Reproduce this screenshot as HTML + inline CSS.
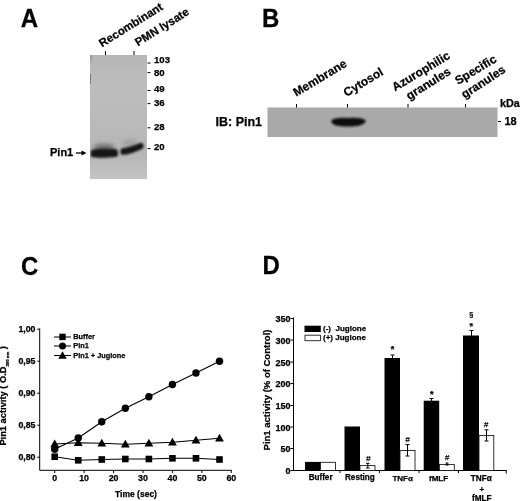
<!DOCTYPE html>
<html><head><meta charset="utf-8">
<style>
html,body{margin:0;padding:0;background:#fff;}
body{width:520px;height:501px;overflow:hidden;}
svg{display:block;font-family:"Liberation Sans",Arial,sans-serif;font-weight:bold;fill:#000;}
text{stroke:#000;stroke-width:0.25px;}
</style></head><body>
<svg width="520" height="501" viewBox="0 0 520 501">
<defs>
<filter id="b1" x="-20%" y="-60%" width="140%" height="220%"><feGaussianBlur stdDeviation="1.2"/></filter>
<filter id="b2" x="-20%" y="-60%" width="140%" height="220%"><feGaussianBlur stdDeviation="1.3"/></filter>
<filter id="b3" x="-30%" y="-30%" width="160%" height="160%"><feGaussianBlur stdDeviation="3"/></filter>
<filter id="b5" x="-30%" y="-60%" width="160%" height="220%"><feGaussianBlur stdDeviation="2"/></filter>
<filter id="b6" x="-100%" y="-30%" width="300%" height="160%"><feGaussianBlur stdDeviation="0.7"/></filter>
<filter id="b4" x="-50%" y="-20%" width="200%" height="140%"><feGaussianBlur stdDeviation="1.5"/></filter>
<linearGradient id="gA" x1="0" y1="0" x2="0" y2="1"><stop offset="0" stop-color="#b6b6b6"/><stop offset="0.25" stop-color="#bdbdbd"/><stop offset="0.62" stop-color="#b9b9b9"/><stop offset="0.8" stop-color="#b6b6b6"/><stop offset="1" stop-color="#c4c4c4"/></linearGradient>
<clipPath id="cA"><rect x="90" y="55" width="57" height="124"/></clipPath>
<clipPath id="cB"><rect x="267.5" y="107.5" width="230" height="29.5"/></clipPath>
</defs>
<rect width="520" height="501" fill="#fff"/>
<!-- Panel A -->
<text transform="translate(20.8,27) scale(1,1.05)" font-size="24">A</text>
<rect x="90" y="55" width="57" height="124" fill="url(#gA)"/>
<g clip-path="url(#cA)">
 <rect x="88.5" y="52" width="3" height="9" fill="#8c8c8c" filter="url(#b4)"/>
 <rect x="89" y="74" width="1.8" height="10" fill="#707070" filter="url(#b6)"/>
 <ellipse cx="104" cy="147.3" rx="11" ry="3.3" fill="#6c6c6c" filter="url(#b5)"/>
 <ellipse cx="130" cy="143" rx="8" ry="3.5" fill="#a0a0a0" filter="url(#b5)"/>
 <path d="M92.3 151.6 C97 149.8 112 149.8 116.3 151.2 L116.3 155 C112 156.3 97 156.5 92.3 155.5 Z" fill="#161616" stroke="#161616" stroke-width="3.2" stroke-linejoin="round" filter="url(#b1)"/>
 <path d="M122.7 150.4 C128 149.7 136 147 141.2 145 L141.4 146.6 C136 149.2 128 152.3 122.7 152.6 Z" fill="#181818" stroke="#181818" stroke-width="4.5" stroke-linejoin="round" filter="url(#b1)"/>
</g>
<g stroke="#000" stroke-width="1">
 <line x1="105.5" y1="51" x2="105.5" y2="55"/><line x1="134" y1="51" x2="134" y2="55"/>
 <line x1="147.5" y1="63" x2="150.5" y2="63"/><line x1="147.5" y1="72.6" x2="150.5" y2="72.6"/>
 <line x1="147.5" y1="90.5" x2="150.5" y2="90.5"/><line x1="147.5" y1="103.6" x2="150.5" y2="103.6"/>
 <line x1="147.5" y1="127.8" x2="150.5" y2="127.8"/><line x1="147.5" y1="148.6" x2="150.5" y2="148.6"/>
</g>
<g font-size="9.6">
 <text x="154" y="63">103</text><text x="154" y="75.5">80</text><text x="154" y="92.4">49</text>
 <text x="154" y="106.2">36</text><text x="154" y="130.3">28</text><text x="154" y="150.3">20</text>
 <text x="50" y="156.1" font-size="11">Pin1</text>
</g>
<path d="M76 153 H83" stroke="#000" stroke-width="1.3" fill="none"/><path d="M81.5 150.5 L86.5 153 L81.5 155.5 Z"/>
<text font-size="11.5" transform="translate(102,47.5) rotate(-32)">Recombinant</text>
<text font-size="11.5" transform="translate(138,46.5) rotate(-32)">PMN lysate</text>
<!-- Panel B -->
<text transform="translate(262,27) scale(1,1.05)" font-size="24">B</text>
<rect x="267.5" y="107.5" width="230" height="29.5" fill="#a9a9a9"/>
<g clip-path="url(#cB)">
 <path d="M332.5 121.3 C334 119 339 118.8 348 119.3 C357 118.8 362 119 364.5 121.3 C362 124.8 357 125.2 348 125.3 C339 125.2 334 124.8 332.5 121.3 Z" fill="#101010" stroke="#101010" stroke-width="2.6" stroke-linejoin="round" filter="url(#b2)"/>
</g>
<g stroke="#000" stroke-width="1">
 <line x1="296.5" y1="104" x2="296.5" y2="107.5"/><line x1="347.5" y1="104" x2="347.5" y2="107.5"/>
 <line x1="408" y1="104" x2="408" y2="107.5"/><line x1="465.5" y1="104" x2="465.5" y2="107.5"/>
 <line x1="498" y1="121.5" x2="501" y2="121.5"/>
</g>
<text x="215.5" y="126" font-size="12.5">IB: Pin1</text>
<text x="500" y="107.3" font-size="10.8">kDa</text>
<text x="504.5" y="124.7" font-size="11">18</text>
<g font-size="12">
<text transform="translate(296.2,96.8) rotate(-31)">Membrane</text>
<text transform="translate(346.5,97) rotate(-31)">Cytosol</text>
<text transform="translate(395,91.5) rotate(-31)">Azurophilic</text>
<text transform="translate(409.3,100.2) rotate(-32)">granules</text>
<text transform="translate(458,85) rotate(-31)">Specific</text>
<text transform="translate(464.5,98.8) rotate(-33)">granules</text>
</g>
<!-- Panel C -->
<text transform="translate(21,274.8) scale(1,1.05)" font-size="24">C</text>
<g stroke="#000" stroke-width="1" fill="none">
 <path d="M39.7 328.5V470.3H231.7"/>
 <path d="M37.2 329.2H39.7M37.2 361.2H39.7M37.2 393.2H39.7M37.2 425.2H39.7M37.2 457.2H39.7"/>
 <path d="M54.7 470.3V473M84.13 470.3V473M113.56 470.3V473M142.99 470.3V473M172.42 470.3V473M201.85 470.3V473M231.28 470.3V473"/>
</g>
<g font-size="8.8" text-anchor="end">
 <text x="35.5" y="331.9">1,00</text> <text x="35.5" y="363.9">0,95</text> <text x="35.5" y="395.9">0,90</text> <text x="35.5" y="427.9">0,85</text> <text x="35.5" y="459.9">0,80</text>
</g>
<g font-size="8.8" text-anchor="middle">
 <text x="54.7" y="481.2">0</text> <text x="84.13" y="481.2">10</text> <text x="113.56" y="481.2">20</text> <text x="142.99" y="481.2">30</text> <text x="172.42" y="481.2">40</text> <text x="201.85" y="481.2">50</text> <text x="231.28" y="481.2">60</text>
 <text x="136" y="496.5" font-size="8.5">Time (sec)</text>
</g>
<text font-size="9.3" transform="translate(6.4,445.6) rotate(-90)">Pin1 activity ( O.D<tspan font-size="4.3" dy="2.2">390 nm</tspan><tspan dy="-2.2"> )</tspan></text>
<g stroke="#000" stroke-width="1.1" fill="none">
 <polyline points="54.7,456.75 78.24,460.3 101.79,459.5 125.33,459 148.88,459 172.42,458.3 195.96,458.3 219.51,459.5"/>
 <polyline points="54.7,449.3 78.24,438 101.79,421.8 125.33,408.2 148.88,396.8 172.42,384.5 195.96,373 219.51,361.2"/>
 <polyline points="54.7,444 78.24,442.7 101.79,443.3 125.33,444.3 148.88,443.2 172.42,442.2 195.96,440.2 219.51,438.2"/>
 <path d="M54 337H71M54 346H71M54 355.5H71"/>
</g>
<g>
 <rect x="51.4" y="453.45" width="6.6" height="6.6"/> <rect x="74.94" y="457" width="6.6" height="6.6"/> <rect x="98.49" y="456.2" width="6.6" height="6.6"/> <rect x="122.03" y="455.7" width="6.6" height="6.6"/> <rect x="145.58" y="455.7" width="6.6" height="6.6"/> <rect x="169.12" y="455" width="6.6" height="6.6"/> <rect x="192.66" y="455" width="6.6" height="6.6"/> <rect x="216.21" y="456.2" width="6.6" height="6.6"/>
 <rect x="59.3" y="333.7" width="6.4" height="6.4"/>
</g>
<g>
 <circle cx="54.7" cy="449.3" r="3.7"/> <circle cx="78.24" cy="438" r="3.7"/> <circle cx="101.79" cy="421.8" r="3.7"/> <circle cx="125.33" cy="408.2" r="3.7"/> <circle cx="148.88" cy="396.8" r="3.7"/> <circle cx="172.42" cy="384.5" r="3.7"/> <circle cx="195.96" cy="373" r="3.7"/> <circle cx="219.51" cy="361.2" r="3.7"/>
 <circle cx="62.5" cy="346" r="3.5"/>
</g>
<g>
 <path d="M54.7 439.48l4.4 7.8h-8.8z"/> <path d="M78.24 438.18l4.4 7.8h-8.8z"/> <path d="M101.79 438.78l4.4 7.8h-8.8z"/> <path d="M125.33 439.78l4.4 7.8h-8.8z"/> <path d="M148.88 438.68l4.4 7.8h-8.8z"/> <path d="M172.42 437.68l4.4 7.8h-8.8z"/> <path d="M195.96 435.68l4.4 7.8h-8.8z"/> <path d="M219.51 433.68l4.4 7.8h-8.8z"/>
 <path d="M62.5 351.3l4.2 7.4h-8.4z"/>
</g>
<g font-size="7.35">
 <text x="73.3" y="339.1">Buffer</text><text x="73.3" y="348.3">Pin1</text><text x="73.3" y="357.6">Pin1 + Juglone</text>
</g>
<!-- Panel D -->
<text transform="translate(262.5,273.5) scale(1,1.05)" font-size="24">D</text>
<g stroke="#000" stroke-width="1" fill="none">
 <path d="M293.5 317.5V470.5"/>
 <path d="M290.5 318.5H293.5M290.5 340H293.5M290.5 362H293.5M290.5 383.5H293.5M290.5 405.5H293.5M290.5 427H293.5M290.5 448.5H293.5M290.5 470.5H293.5"/>
</g>
<path d="M293 470.5H506.7" stroke="#000" stroke-width="1.2" fill="none"/>
<path d="M340 470.5v2.5M379.5 470.5v2.5M419 470.5v2.5M458.5 470.5v2.5M506.2 470.5v3" stroke="#000" stroke-width="1" fill="none"/>
<g font-size="9" text-anchor="end">
 <text x="290.5" y="322">350</text><text x="290.5" y="343.5">300</text><text x="290.5" y="365.5">250</text><text x="290.5" y="387">200</text><text x="290.5" y="409">150</text><text x="290.5" y="430.5">100</text><text x="290.5" y="452">50</text><text x="290.5" y="474">0</text>
</g>
<text font-size="9.5" text-anchor="middle" transform="translate(270.2,390) rotate(-90)">Pin1 activity (% of Control)</text>
<g>
 <rect x="305" y="461.9" width="15.5" height="8.6"/>
 <rect x="344.5" y="426.5" width="15.5" height="44"/>
 <rect x="384.5" y="358" width="15.5" height="112.5"/>
 <rect x="423.7" y="400.7" width="15.5" height="69.8"/>
 <rect x="463" y="335.5" width="16" height="135"/>
 <rect x="304.5" y="325.7" width="16.3" height="6.3"/>
</g>
<g fill="#fff" stroke="#111" stroke-width="0.85">
 <rect x="320.5" y="462.3" width="15" height="8.2"/>
 <rect x="360" y="465.6" width="15" height="4.9"/>
 <rect x="400" y="450.5" width="15" height="20"/>
 <rect x="439.5" y="464.4" width="14.8" height="6.1"/>
 <rect x="479" y="435.5" width="14.8" height="35"/>
 <rect x="305" y="335.2" width="15.5" height="5.5"/>
</g>
<g stroke="#000" stroke-width="1" fill="none">
 <path d="M367.8 463.3V468M366 463.3H369.6M366 468H369.6"/>
 <path d="M407.5 444.5V456M405.5 444.5H409.5M405.5 456H409.5"/>
 <path d="M447 463V465M445.5 463H448.5M445.5 465H448.5"/>
 <path d="M486.5 429.8V441M484.5 429.8H488.5M484.5 441H488.5"/>
 <path d="M392.5 355V358M390.5 355H394.5"/>
 <path d="M431.5 398.5V401M429.5 398.5H433.5"/>
 <path d="M471.5 330.5V336M469.5 330.5H473.5"/>
</g>
<g font-size="8" text-anchor="middle" font-weight="normal" font-style="italic">
 <text x="368.2" y="460.9">#</text><text x="407.5" y="441.5">#</text><text x="447" y="460">#</text><text x="486" y="426.5">#</text>
 <text x="392.5" y="352.2" font-size="9" font-weight="bold" font-style="normal">*</text><text x="431.7" y="397.2" font-size="9" font-weight="bold" font-style="normal">*</text><text x="471.3" y="329.4" font-size="9" font-weight="bold" font-style="normal">*</text>
 <text x="471.3" y="317" font-size="8" font-weight="normal" font-style="normal">§</text>
</g>
<g font-size="8" text-anchor="middle">
 <text x="320.6" y="479.9" font-size="8.15">Buffer</text><text x="359.9" y="479.9" font-size="8.15">Resting</text><text x="402.7" y="481.1">TNFα</text><text x="438.6" y="481.1">fMLF</text>
 <text x="481.3" y="481.3" font-size="8.2">TNFα</text><text x="481.8" y="492.1">+</text><text x="481.7" y="501" font-size="8.2">fMLF</text>
</g>
<g font-size="8">
 <text x="323" y="330.8" xml:space="preserve">(-)  Juglone</text><text x="323" y="340.3">(+) Juglone</text>
</g>
</svg>
</body></html>
